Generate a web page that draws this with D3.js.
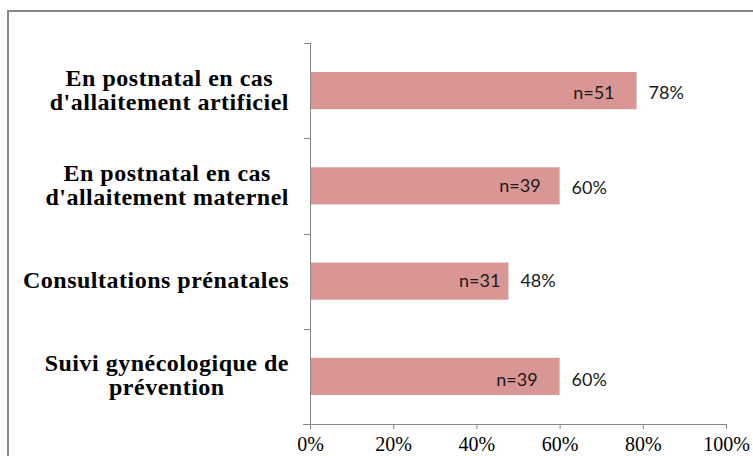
<!DOCTYPE html>
<html>
<head>
<meta charset="utf-8">
<script src="https://cdn.jsdelivr.net/npm/d3@7"></script>
<style>
  body { margin: 0; background: #fff; }
</style>
</head>
<body>
<svg id="chart" width="753" height="456"></svg>
<script>
// chart data
const categories = [
    ["En postnatal en cas", "d'allaitement artificiel"],
    ["En postnatal en cas", "d'allaitement maternel"],
    ["Consultations prénatales"],
    ["Suivi gynécologique de", "prévention"]
];
const percents = [78.5, 60, 47.7, 60];
const counts = ["n=51", "n=39", "n=31", "n=39"];
const pctLabels = ["78%", "60%", "48%", "60%"];
const xTicks = [0, 20, 40, 60, 80, 100];

// the n= labels were hand-placed in the original, nudge them the same way
const nGap = [22, 19, 8, 22];
const nDy = [8, 6, 6, 10];
const pDy = [8, 8, 6, 10];

const svg = d3.select("#chart"),
    margin = { top: 43, right: 27, bottom: 32, left: 310 },
    width = +svg.attr("width") - margin.left - margin.right,
    height = +svg.attr("height") - margin.top - margin.bottom;

// outer chart frame (runs off the picture on right and bottom)
svg.append("rect")
    .attr("x", 8).attr("y", 11)
    .attr("width", 800).attr("height", 500)
    .attr("fill", "none")
    .attr("stroke", "#878787")
    .attr("stroke-width", 2);

const g = svg.append("g")
    .attr("transform", "translate(" + margin.left + "," + margin.top + ")");

const idx = d3.range(categories.length);

const xScale = d3.scaleLinear().domain([0, 100]).range([0, width]);
const yScale = d3.scaleBand()
    .domain(idx)
    .range([0, height])
    .paddingInner(0.61)
    .paddingOuter(0.305);

// bars
g.selectAll("rect.bar")
    .data(idx)
    .enter()
    .append("rect")
    .attr("class", "bar")
    .attr("x", 0)
    .attr("y", i => yScale(i))
    .attr("width", i => xScale(percents[i]))
    .attr("height", yScale.bandwidth())
    .style("fill", "#d99694");

// n= labels inside bars
g.selectAll("text.n")
    .data(idx)
    .enter()
    .append("text")
    .attr("class", "n")
    .attr("x", i => xScale(percents[i]) - nGap[i])
    .attr("y", i => yScale(i) + yScale.bandwidth() / 2 + nDy[i])
    .attr("text-anchor", "end")
    .style("font-family", "Lato, 'Open Sans', sans-serif")
    .style("font-size", "18px")
    .style("fill", "#1a1a1a")
    .text(i => counts[i]);

// percent labels after bars
g.selectAll("text.pct")
    .data(idx)
    .enter()
    .append("text")
    .attr("class", "pct")
    .attr("x", i => xScale(percents[i]) + 12)
    .attr("y", i => yScale(i) + yScale.bandwidth() / 2 + pDy[i])
    .style("font-family", "Lato, 'Open Sans', sans-serif")
    .style("font-size", "18px")
    .style("fill", "#1a1a1a")
    .text(i => pctLabels[i]);

// x axis
const xAxis = g.append("g")
    .attr("transform", "translate(0," + height + ")")
    .call(d3.axisBottom(xScale).tickValues(xTicks).tickSize(5).tickSizeOuter(0).tickFormat(d => d + "%"));
xAxis.select(".domain").attr("stroke", "#878787").attr("d", "M-7,0.5H" + width);
xAxis.selectAll(".tick line").attr("stroke", "#878787");
xAxis.selectAll(".tick text")
    .attr("dy", "0.71em")
    .attr("y", 13)
    .style("font-family", "'Liberation Serif', serif")
    .style("font-size", "20px")
    .style("fill", "#000");

// y axis: line with ticks on category boundaries
const yAxis = g.append("g");
yAxis.append("line")
    .attr("x1", 0.5).attr("x2", 0.5)
    .attr("y1", 0).attr("y2", height)
    .attr("stroke", "#878787");
const step = yScale.step();
yAxis.selectAll("line.tick")
    .data(d3.range(categories.length))
    .enter()
    .append("line")
    .attr("class", "tick")
    .attr("x1", -6).attr("x2", 0)
    .attr("y1", i => Math.round(i * step) + 0.5)
    .attr("y2", i => Math.round(i * step) + 0.5)
    .attr("stroke", "#878787");

// category labels: block right-aligned to axis, lines centred in block
const right = -21;
const lineH = 24;
idx.forEach(i => {
    const lines = categories[i];
    const t = g.append("text")
        .style("font-family", "'Liberation Serif', 'Times New Roman', serif")
        .style("font-weight", "bold")
        .style("font-size", "24px")
        .style("letter-spacing", "0.5px")
        .style("fill", "#000");
    const cy = yScale(i) + yScale.bandwidth() / 2;
    const spans = lines.map((s, k) => t.append("tspan")
        .attr("y", cy + (k - (lines.length - 1) / 2) * lineH + 7)
        .text(s));
    const widths = spans.map(s => s.node().getComputedTextLength());
    const blockW = d3.max(widths);
    spans.forEach(s => s.attr("x", right - blockW / 2).attr("text-anchor", "middle"));
});
</script>
</body>
</html>
